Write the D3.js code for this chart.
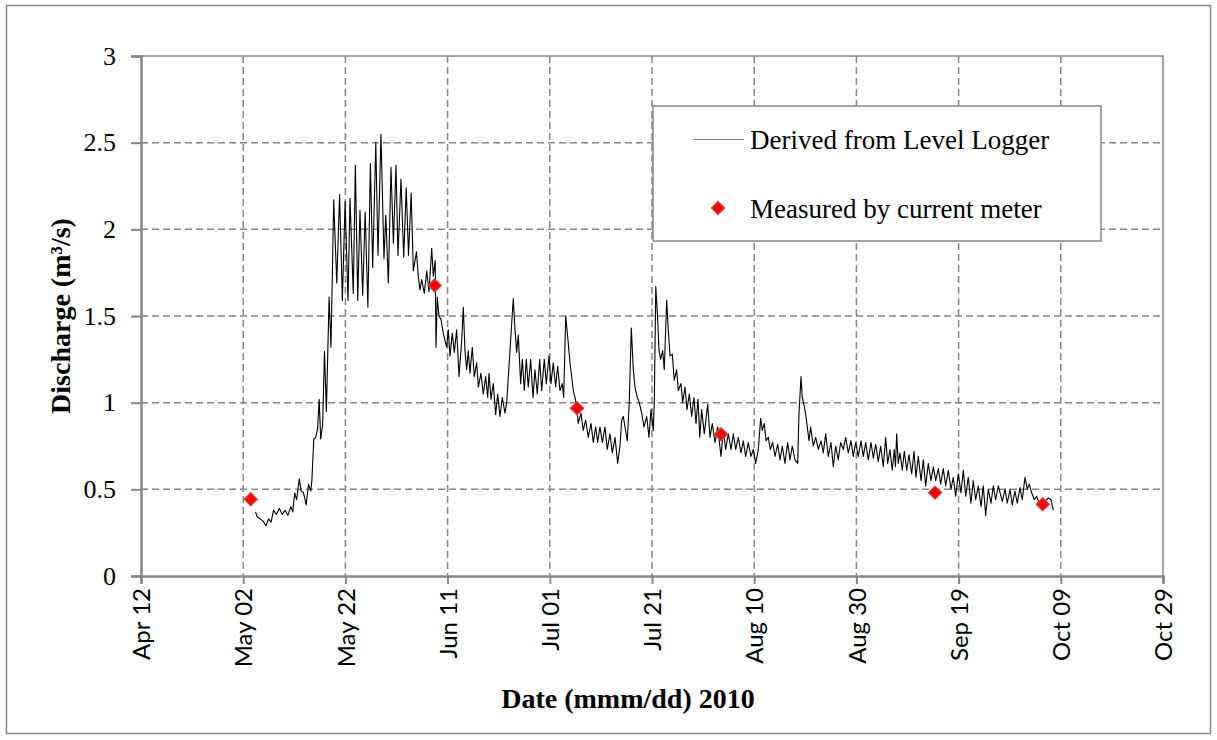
<!DOCTYPE html>
<html>
<head>
<meta charset="utf-8">
<script src="https://cdn.jsdelivr.net/npm/d3@7"></script>
<style>
  body { margin: 0; background: #fff; }
</style>
</head>
<body>
<svg id="chart" width="1217" height="740"></svg>
<script>
// Logger time axis: days after 2010-05-01 00:00 (UTC)
const originDate = Date.UTC(2010, 4, 1);

const loggerDay = [
  3.42, 3.74, 4.32, 4.93, 5.46, 5.99, 6.44, 6.95, 7.48, 8.08, 8.67, 9.20, 9.73, 10.33, 10.70,
  11.08, 11.45, 11.98, 12.35, 12.80, 13.33, 13.78, 14.23, 14.44, 14.81, 15.19, 15.56, 15.87,
  16.16, 16.54, 16.91, 17.28, 17.81, 18.18, 18.71, 19.31, 19.86, 20.41, 20.94, 21.51, 21.90,
  22.54, 22.95, 23.42, 23.85, 24.38, 24.87, 25.40, 25.89, 26.34, 26.95, 27.38, 27.96, 28.55,
  28.90, 29.41, 29.92, 30.39, 30.90, 31.29, 31.88, 32.41, 32.90, 33.35, 33.87, 34.29, 34.91,
  35.26, 35.60, 35.93, 36.44, 36.91, 37.36, 37.89, 38.20, 38.57, 38.73, 38.98, 39.31, 39.71,
  40.16, 40.82, 41.13, 41.47, 41.92, 42.31, 42.78, 43.23, 43.76, 44.07, 44.40, 44.73, 45.05,
  45.38, 45.83, 46.22, 46.69, 47.01, 47.53, 47.98, 48.45, 48.85, 49.10, 49.49, 49.94, 50.41,
  50.80, 51.25, 51.70, 52.23, 52.56, 53.21, 53.85, 54.19, 54.52, 54.83, 55.30, 55.62, 56.01,
  56.40, 56.79, 57.26, 57.71, 58.10, 58.55, 59.02, 59.41, 59.92, 60.31, 60.84, 61.23, 61.68,
  62.15, 62.54, 62.99, 63.44, 63.72, 64.11, 64.50, 64.95, 65.28, 65.60, 65.93, 66.26, 66.57,
  67.10, 67.55, 68.02, 68.53, 69.06, 69.51, 69.98, 70.37, 70.82, 71.27, 71.80, 72.25, 72.78,
  73.23, 73.76, 74.28, 74.73, 75.07, 75.38, 75.71, 76.16, 76.55, 76.95, 77.34, 77.67, 78.12,
  78.51, 78.98, 79.43, 79.96, 80.41, 80.80, 81.25, 81.45, 81.74, 82.11, 82.37, 82.70, 83.09,
  83.40, 83.87, 84.19, 84.52, 84.97, 85.36, 85.83, 86.14, 86.67, 87.00, 87.46, 87.85, 88.30,
  88.77, 89.21, 89.61, 90.00, 90.35, 90.72, 91.23, 91.90, 92.35, 92.80, 93.33, 93.85, 94.50,
  94.95, 95.42, 95.93, 96.46, 96.91, 97.38, 97.89, 98.41, 98.86, 99.33, 99.84, 100.37, 100.82,
  101.29, 101.80, 102.27, 102.58, 102.97, 103.31, 103.76, 104.15, 104.62, 105.07, 105.60,
  106.05, 106.50, 107.02, 107.55, 108.00, 108.45, 108.98, 109.51, 109.77, 110.16, 110.41,
  110.80, 111.13, 111.47, 111.72, 112.05, 112.56, 113.03, 113.54, 114.07, 114.52, 114.99,
  115.50, 116.03, 116.48, 116.95, 117.45, 117.92, 118.43, 118.90, 119.41, 119.94, 120.39,
  120.86, 121.37, 121.90, 122.35, 122.82, 123.33, 123.86, 124.31, 124.77, 125.28, 125.75,
  126.26, 126.73, 127.12, 127.57, 128.02, 128.41, 128.65, 128.88, 129.19, 129.53, 129.98,
  130.37, 130.84, 131.29, 131.82, 132.27, 132.66, 133.11, 133.64, 134.09, 134.56, 135.07,
  135.60, 136.05, 136.52, 137.03, 137.49, 138.00, 138.47, 138.98, 139.51, 139.96, 140.43,
  140.94, 141.47, 141.92, 142.39, 142.89, 143.42, 143.87, 144.34, 144.85, 145.38, 145.83,
  146.30, 146.81, 147.34, 147.79, 148.25, 148.77, 149.55, 150.08, 150.53, 151.06, 151.51,
  152.03, 152.48, 153.01, 153.46, 153.99, 154.44, 154.83, 155.30, 155.81, 156.28, 156.73,
  157.26, 157.90, 158.55, 159.08, 159.53
];

// Discharge from the level logger, m3/s
const loggerQ = [
  0.37, 0.34, 0.33, 0.315, 0.29, 0.33, 0.31, 0.38, 0.355, 0.39, 0.355, 0.38, 0.35, 0.40, 0.37,
  0.48, 0.44, 0.56, 0.49, 0.48, 0.41, 0.53, 0.49, 0.55, 0.79, 0.80, 0.85, 1.02,
  0.79, 0.87, 1.295, 0.95, 1.61, 1.32, 2.17, 1.69, 2.20, 1.59, 2.16, 1.59, 2.18,
  1.63, 2.37, 1.59, 2.11, 1.62, 2.10, 1.55, 2.38, 1.78, 2.50, 1.85, 2.55, 1.83,
  2.08, 1.69, 2.36, 1.92, 2.37, 1.85, 2.29, 1.84, 2.24, 1.85, 2.21, 1.76, 1.87,
  1.73, 1.65, 1.71, 1.63, 1.76, 1.64, 1.89, 1.73, 1.82, 1.32, 1.61, 1.50, 1.48,
  1.40, 1.32, 1.42, 1.27, 1.40, 1.29, 1.42, 1.15, 1.36, 1.55, 1.30, 1.19, 1.30,
  1.17, 1.32, 1.15, 1.23, 1.09, 1.17, 1.05, 1.15, 1.03, 1.17, 1.02, 1.11, 0.93,
  1.05, 0.92, 1.03, 0.94, 1.00, 1.30, 1.60, 1.42, 1.29, 1.39, 1.11, 1.25, 1.07,
  1.25, 1.09, 1.25, 1.03, 1.19, 1.05, 1.25, 1.07, 1.25, 1.11, 1.27, 1.11, 1.23,
  1.09, 1.21, 1.07, 1.11, 1.03, 1.50, 1.38, 1.23, 1.15, 1.07, 1.03, 0.98, 0.88,
  0.94, 0.84, 0.90, 0.80, 0.88, 0.77, 0.86, 0.77, 0.86, 0.77, 0.86, 0.73, 0.82,
  0.71, 0.80, 0.65, 0.75, 0.90, 0.92, 0.86, 0.78, 1.00, 1.43, 1.19, 1.09, 1.03,
  1.00, 0.94, 0.86, 0.92, 0.80, 0.96, 0.84, 1.00, 1.67, 1.48, 1.30, 1.25, 1.30,
  1.19, 1.59, 1.42, 1.27, 1.28, 1.13, 1.19, 1.07, 1.11, 1.00, 1.09, 0.96, 1.05,
  0.92, 1.03, 0.88, 1.02, 0.80, 0.96, 0.82, 0.99, 0.80, 0.88, 0.77, 0.86, 0.69,
  0.84, 0.73, 0.82, 0.73, 0.82, 0.73, 0.80, 0.71, 0.78, 0.69, 0.77, 0.69, 0.73,
  0.65, 0.73, 0.91, 0.84, 0.88, 0.78, 0.80, 0.73, 0.77, 0.69, 0.76,
  0.67, 0.75, 0.65, 0.77, 0.67, 0.75, 0.67, 0.65, 0.94, 1.15, 1.03,
  0.98, 0.92, 0.84, 0.78, 0.86, 0.75, 0.80, 0.73, 0.78, 0.71, 0.82,
  0.69, 0.77, 0.63, 0.75, 0.67, 0.77, 0.73, 0.80, 0.71, 0.78, 0.69,
  0.77, 0.69, 0.78, 0.69, 0.77, 0.67, 0.77, 0.68, 0.76, 0.66, 0.75,
  0.63, 0.80, 0.65, 0.73, 0.61, 0.73, 0.63, 0.82, 0.65, 0.71, 0.61,
  0.72, 0.61, 0.70, 0.59, 0.72, 0.57, 0.69, 0.55, 0.67, 0.52, 0.65,
  0.55, 0.63, 0.55, 0.62, 0.53, 0.62, 0.52, 0.61, 0.50, 0.57, 0.46,
  0.59, 0.48, 0.61, 0.46, 0.57, 0.42, 0.55, 0.44, 0.52, 0.40, 0.52,
  0.35, 0.50, 0.42, 0.52, 0.44, 0.52, 0.43, 0.50, 0.42, 0.50, 0.41,
  0.49, 0.42, 0.51, 0.44, 0.57, 0.50, 0.53, 0.48, 0.44, 0.46, 0.42,
  0.44, 0.43, 0.45, 0.44, 0.38
];

// Current-meter gaugings (days after 2010-05-01, m3/s)
const meterDay = [2.47, 38.47, 66.34, 94.50, 136.38, 157.46];
const meterQ   = [0.443, 1.676, 0.968, 0.818, 0.481, 0.414];

// Axis ticks
const xTickDates = ["2010-04-12", "2010-05-02", "2010-05-22", "2010-06-11", "2010-07-01",
                    "2010-07-21", "2010-08-10", "2010-08-30", "2010-09-19", "2010-10-09", "2010-10-29"];
const yTicks = [0, 0.5, 1, 1.5, 2, 2.5, 3];

const legendLabels = ["Derived from Level Logger", "Measured by current meter"];
const xTitle = "Date (mmm/dd) 2010";
const yTitle = "Discharge (m\u00B3/s)";

// ---------------------------------------------------------------------------
const plot = { left: 141, right: 1163, top: 56, bottom: 576 };
const axisGray = "#868686";
const serif = "'Liberation Serif', 'Times New Roman', serif";
const sans = "Lato, 'Liberation Sans', sans-serif";

const toDate = d => new Date(originDate + d * 86400000);
const parseDay = d3.utcParse("%Y-%m-%d");
const xTicks = xTickDates.map(parseDay);

const x = d3.scaleUtc()
  .domain([xTicks[0], xTicks[xTicks.length - 1]])
  .range([plot.left, plot.right]);
const y = d3.scaleLinear().domain([0, 3]).range([plot.bottom, plot.top]);

const svg = d3.select("#chart");

// outer chart frame
svg.append("rect")
  .attr("x", 6.5).attr("y", 5.5)
  .attr("width", 1204).attr("height", 728)
  .attr("fill", "#fff").attr("stroke", axisGray).attr("stroke-width", 1.5);

// dashed gridlines
const grid = svg.append("g");
grid.selectAll("line.h").data(yTicks.slice(1, -1)).join("line")
  .attr("x1", plot.left).attr("x2", plot.right)
  .attr("y1", d => y(d)).attr("y2", d => y(d))
  .attr("stroke", axisGray).attr("stroke-width", 1.5).attr("stroke-dasharray", "7,4");
grid.selectAll("line.v").data(xTicks.slice(1, -1)).join("line")
  .attr("x1", d => x(d)).attr("x2", d => x(d))
  .attr("y1", plot.top).attr("y2", plot.bottom)
  .attr("stroke", axisGray).attr("stroke-width", 1.5).attr("stroke-dasharray", "7,4");

// plot-area border (top and right)
svg.append("path")
  .attr("d", `M${plot.left},${plot.top}H${plot.right}V${plot.bottom}`)
  .attr("fill", "none").attr("stroke", axisGray).attr("stroke-width", 1.5);

// y axis
const yAxis = svg.append("g")
  .attr("transform", `translate(${plot.left},0)`)
  .call(d3.axisLeft(y).tickValues(yTicks).tickFormat(d => String(d)).tickSize(10).tickPadding(15));
yAxis.select(".domain").attr("stroke", axisGray).attr("stroke-width", 2.5);
yAxis.selectAll(".tick line").attr("stroke", axisGray).attr("stroke-width", 2);
yAxis.selectAll(".tick text")
  .attr("font-family", serif).attr("font-size", 26).attr("fill", "#000");

// x axis
const xAxis = svg.append("g")
  .attr("transform", `translate(0,${plot.bottom})`)
  .call(d3.axisBottom(x).tickValues(xTicks).tickFormat(d3.utcFormat("%b %d")).tickSize(8));
xAxis.select(".domain").attr("stroke", axisGray).attr("stroke-width", 2.5);
xAxis.selectAll(".tick line").attr("stroke", axisGray).attr("stroke-width", 2);
xAxis.selectAll(".tick text")
  .attr("font-family", sans).attr("font-size", 24).attr("fill", "#000")
  .attr("text-anchor", "end")
  .attr("transform", "translate(0,12) rotate(-90)")
  .attr("x", 0).attr("y", 0).attr("dy", "0.36em");

// axis titles
svg.append("text")
  .attr("transform", `translate(70,${(plot.top + plot.bottom) / 2}) rotate(-90)`)
  .attr("text-anchor", "middle")
  .attr("font-family", serif).attr("font-weight", "bold").attr("font-size", 28)
  .text(yTitle);
svg.append("text")
  .attr("x", 628).attr("y", 708)
  .attr("text-anchor", "middle")
  .attr("font-family", serif).attr("font-weight", "bold").attr("font-size", 28)
  .text(xTitle);

// logger series
const loggerData = loggerDay.map((d, i) => ({ date: toDate(d), q: loggerQ[i] }));
const line = d3.line().x(d => x(d.date)).y(d => y(d.q));
svg.append("path")
  .datum(loggerData)
  .attr("d", line)
  .attr("fill", "none").attr("stroke", "#000").attr("stroke-width", 1.1)
  .attr("stroke-linejoin", "round");

// current-meter gaugings
const diamond = d3.symbol(d3.symbolSquare, 88);
const meterData = meterDay.map((d, i) => ({ date: toDate(d), q: meterQ[i] }));
svg.append("g").selectAll("path").data(meterData).join("path")
  .attr("d", diamond)
  .attr("transform", d => `translate(${x(d.date)},${y(d.q)}) rotate(45)`)
  .attr("fill", "#ff0000").attr("stroke", "#c0504d").attr("stroke-width", 1.2);

// legend
const lg = svg.append("g");
lg.append("rect")
  .attr("x", 653).attr("y", 106).attr("width", 448).attr("height", 135)
  .attr("fill", "#fff").attr("stroke", axisGray).attr("stroke-width", 1.5);
lg.append("line")
  .attr("x1", 693).attr("x2", 744).attr("y1", 139.5).attr("y2", 139.5)
  .attr("stroke", "#808080").attr("stroke-width", 1);
lg.append("path")
  .attr("d", diamond)
  .attr("transform", "translate(718,208) rotate(45)")
  .attr("fill", "#ff0000").attr("stroke", "#c0504d").attr("stroke-width", 1.2);
lg.selectAll("text").data(legendLabels).join("text")
  .attr("x", 750).attr("y", (d, i) => i === 0 ? 148.5 : 217.5)
  .attr("font-family", serif).attr("font-size", 27).attr("fill", "#000")
  .text(d => d);
</script>
</body>
</html>
